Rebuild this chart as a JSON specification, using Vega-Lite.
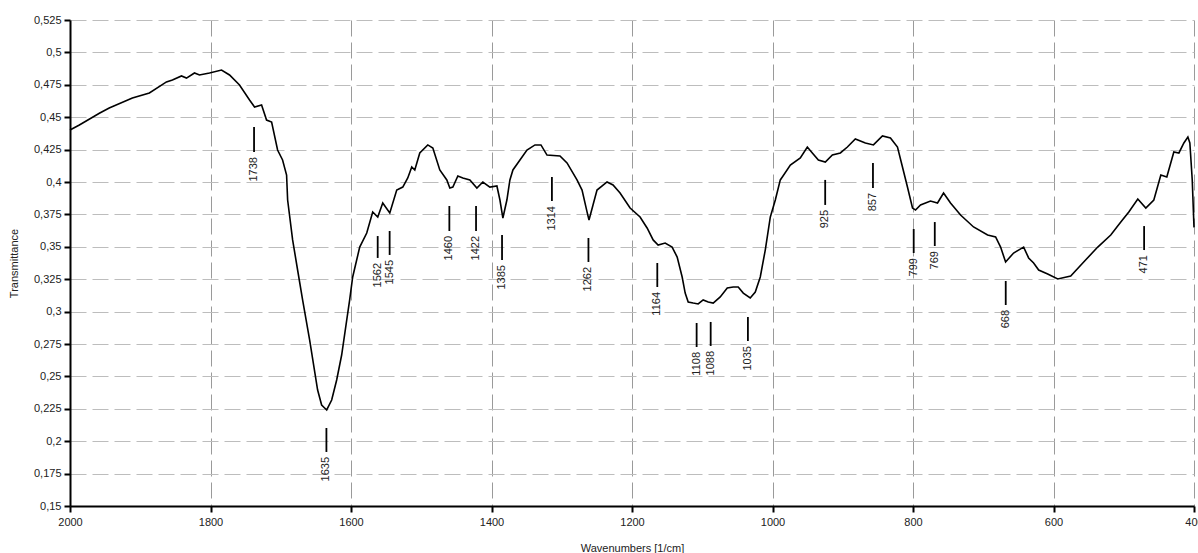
{
  "$schema": "https://vega.github.io/schema/vega-lite/v6.json",
  "width": 1124,
  "height": 486,
  "autosize": {"type": "none"},
  "padding": {"left": 70, "top": 20, "right": 4, "bottom": 47},
  "background": "white",
  "config": {
    "locale": {"number": {"decimal": ",", "thousands": ".", "grouping": [3], "currency": ["", ""]}},
    "view": {"stroke": null},
    "font": "Liberation Sans",
    "axis": {
      "labelFont": "Liberation Sans",
      "labelFontSize": 11,
      "labelColor": "#222222",
      "labelOverlap": false,
      "titleFont": "Liberation Sans",
      "titleFontSize": 11,
      "titleFontWeight": "normal",
      "titleColor": "#222222",
      "domainColor": "black",
      "domainWidth": 2,
      "tickColor": "black",
      "tickWidth": 2,
      "tickSize": 6,
      "gridDash": [16, 6],
      "gridWidth": 1
    }
  },
  "datasets": {
    "spectrum": [
      {"wn": 2000, "t": 0.4401},
      {"wn": 1986.7, "t": 0.444},
      {"wn": 1958.2, "t": 0.453},
      {"wn": 1944.2, "t": 0.4571},
      {"wn": 1911.2, "t": 0.4648},
      {"wn": 1887, "t": 0.4687},
      {"wn": 1862.7, "t": 0.4772},
      {"wn": 1854.2, "t": 0.4787},
      {"wn": 1841.3, "t": 0.4818},
      {"wn": 1834.2, "t": 0.4802},
      {"wn": 1822.8, "t": 0.4841},
      {"wn": 1815.7, "t": 0.4826},
      {"wn": 1801.4, "t": 0.4841},
      {"wn": 1784.3, "t": 0.4864},
      {"wn": 1772.9, "t": 0.4826},
      {"wn": 1758.7, "t": 0.4748},
      {"wn": 1744.4, "t": 0.4633},
      {"wn": 1737.3, "t": 0.4579},
      {"wn": 1727.3, "t": 0.4594},
      {"wn": 1720.2, "t": 0.4478},
      {"wn": 1713, "t": 0.4463},
      {"wn": 1704.5, "t": 0.4247},
      {"wn": 1697.4, "t": 0.417},
      {"wn": 1691.7, "t": 0.4054},
      {"wn": 1690.2, "t": 0.3861},
      {"wn": 1683.1, "t": 0.3553},
      {"wn": 1676, "t": 0.3321},
      {"wn": 1668.9, "t": 0.309},
      {"wn": 1658.9, "t": 0.2781},
      {"wn": 1647.5, "t": 0.2395},
      {"wn": 1641.8, "t": 0.2279},
      {"wn": 1634.6, "t": 0.2241},
      {"wn": 1627.5, "t": 0.2318},
      {"wn": 1620.4, "t": 0.2472},
      {"wn": 1613.3, "t": 0.2665},
      {"wn": 1606.1, "t": 0.2935},
      {"wn": 1601.9, "t": 0.309},
      {"wn": 1597.6, "t": 0.3267},
      {"wn": 1587.6, "t": 0.3498},
      {"wn": 1577.6, "t": 0.3606},
      {"wn": 1569.1, "t": 0.3769},
      {"wn": 1561.9, "t": 0.373},
      {"wn": 1554.8, "t": 0.3838},
      {"wn": 1544.8, "t": 0.3761},
      {"wn": 1534.9, "t": 0.3938},
      {"wn": 1526.3, "t": 0.3961},
      {"wn": 1519.2, "t": 0.4031},
      {"wn": 1513.5, "t": 0.4116},
      {"wn": 1509.2, "t": 0.4093},
      {"wn": 1502.1, "t": 0.4224},
      {"wn": 1490.7, "t": 0.4286},
      {"wn": 1483.5, "t": 0.4262},
      {"wn": 1473.6, "t": 0.4093},
      {"wn": 1463.6, "t": 0.4016},
      {"wn": 1459.3, "t": 0.3954},
      {"wn": 1455, "t": 0.3961},
      {"wn": 1447.9, "t": 0.4046},
      {"wn": 1440.8, "t": 0.4031},
      {"wn": 1430.8, "t": 0.4016},
      {"wn": 1420.8, "t": 0.3954},
      {"wn": 1412.3, "t": 0.4},
      {"wn": 1402.3, "t": 0.3961},
      {"wn": 1392.3, "t": 0.3969},
      {"wn": 1388, "t": 0.3861},
      {"wn": 1383.8, "t": 0.3722},
      {"wn": 1378.1, "t": 0.3861},
      {"wn": 1373.8, "t": 0.4016},
      {"wn": 1369.5, "t": 0.4093},
      {"wn": 1359.5, "t": 0.417},
      {"wn": 1349.5, "t": 0.4247},
      {"wn": 1338.1, "t": 0.4286},
      {"wn": 1329.6, "t": 0.4286},
      {"wn": 1321, "t": 0.4208},
      {"wn": 1302.5, "t": 0.4201},
      {"wn": 1292.5, "t": 0.4147},
      {"wn": 1278.3, "t": 0.4016},
      {"wn": 1271.1, "t": 0.3938},
      {"wn": 1264, "t": 0.3769},
      {"wn": 1261.2, "t": 0.3707},
      {"wn": 1255.5, "t": 0.3823},
      {"wn": 1249.8, "t": 0.3938},
      {"wn": 1235.5, "t": 0.4},
      {"wn": 1227, "t": 0.3977},
      {"wn": 1217, "t": 0.3915},
      {"wn": 1202.7, "t": 0.3799},
      {"wn": 1188.5, "t": 0.373},
      {"wn": 1178.5, "t": 0.3645},
      {"wn": 1169.9, "t": 0.3553},
      {"wn": 1162.8, "t": 0.3514},
      {"wn": 1152.8, "t": 0.3529},
      {"wn": 1142.9, "t": 0.3498},
      {"wn": 1135.7, "t": 0.3421},
      {"wn": 1128.6, "t": 0.3267},
      {"wn": 1124.3, "t": 0.3143},
      {"wn": 1120, "t": 0.3074},
      {"wn": 1112.9, "t": 0.3066},
      {"wn": 1105.8, "t": 0.3059},
      {"wn": 1098.7, "t": 0.309},
      {"wn": 1091.5, "t": 0.3074},
      {"wn": 1084.4, "t": 0.3066},
      {"wn": 1074.4, "t": 0.3113},
      {"wn": 1064.4, "t": 0.3182},
      {"wn": 1055.9, "t": 0.319},
      {"wn": 1048.8, "t": 0.319},
      {"wn": 1041.6, "t": 0.3143},
      {"wn": 1031.7, "t": 0.3105},
      {"wn": 1024.5, "t": 0.3151},
      {"wn": 1017.4, "t": 0.3267},
      {"wn": 1010.3, "t": 0.3475},
      {"wn": 1003.1, "t": 0.373},
      {"wn": 996, "t": 0.3861},
      {"wn": 988.9, "t": 0.4016},
      {"wn": 986, "t": 0.4039},
      {"wn": 974.6, "t": 0.4131},
      {"wn": 960.4, "t": 0.4185},
      {"wn": 950.4, "t": 0.427},
      {"wn": 943.3, "t": 0.4224},
      {"wn": 934.7, "t": 0.417},
      {"wn": 924.8, "t": 0.4154},
      {"wn": 914.8, "t": 0.4208},
      {"wn": 903.4, "t": 0.4224},
      {"wn": 893.4, "t": 0.427},
      {"wn": 882.1, "t": 0.4332},
      {"wn": 867.8, "t": 0.4301},
      {"wn": 856.3, "t": 0.4286},
      {"wn": 843.5, "t": 0.4355},
      {"wn": 832.1, "t": 0.434},
      {"wn": 822.1, "t": 0.427},
      {"wn": 815, "t": 0.4116},
      {"wn": 807.9, "t": 0.3961},
      {"wn": 800.7, "t": 0.3799},
      {"wn": 796.4, "t": 0.3784},
      {"wn": 789.3, "t": 0.3823},
      {"wn": 775.1, "t": 0.3853},
      {"wn": 765.1, "t": 0.3838},
      {"wn": 756.5, "t": 0.3915},
      {"wn": 746.6, "t": 0.3838},
      {"wn": 732.3, "t": 0.3745},
      {"wn": 713.8, "t": 0.3653},
      {"wn": 693.8, "t": 0.3591},
      {"wn": 682.4, "t": 0.3576},
      {"wn": 675.3, "t": 0.3498},
      {"wn": 668.2, "t": 0.3383},
      {"wn": 656.8, "t": 0.3452},
      {"wn": 642.5, "t": 0.3498},
      {"wn": 635.4, "t": 0.3414},
      {"wn": 628.3, "t": 0.3375},
      {"wn": 621.1, "t": 0.3321},
      {"wn": 608.3, "t": 0.329},
      {"wn": 594, "t": 0.3252},
      {"wn": 575.5, "t": 0.3275},
      {"wn": 557, "t": 0.3383},
      {"wn": 537, "t": 0.3498},
      {"wn": 518.5, "t": 0.3591},
      {"wn": 504.2, "t": 0.3691},
      {"wn": 492.8, "t": 0.3769},
      {"wn": 480, "t": 0.3869},
      {"wn": 468.6, "t": 0.3799},
      {"wn": 457.2, "t": 0.3861},
      {"wn": 447.2, "t": 0.4054},
      {"wn": 438.7, "t": 0.4039},
      {"wn": 428.7, "t": 0.4232},
      {"wn": 421.5, "t": 0.4224},
      {"wn": 414.4, "t": 0.4301},
      {"wn": 408.7, "t": 0.4347},
      {"wn": 405.9, "t": 0.4301},
      {"wn": 402.5, "t": 0.4016},
      {"wn": 400, "t": 0.365}
    ],
    "peaks": [
      {"wn": 1738, "top": 0.4424, "bottom": 0.4231, "label": "1738"},
      {"wn": 1635, "top": 0.2102, "bottom": 0.1917, "label": "1635"},
      {"wn": 1562, "top": 0.3583, "bottom": 0.3414, "label": "1562"},
      {"wn": 1545, "top": 0.3622, "bottom": 0.3437, "label": "1545"},
      {"wn": 1460, "top": 0.3815, "bottom": 0.3622, "label": "1460"},
      {"wn": 1422, "top": 0.3815, "bottom": 0.3622, "label": "1422"},
      {"wn": 1385, "top": 0.3591, "bottom": 0.3398, "label": "1385"},
      {"wn": 1314, "top": 0.4039, "bottom": 0.3853, "label": "1314"},
      {"wn": 1262, "top": 0.3568, "bottom": 0.3383, "label": "1262"},
      {"wn": 1164, "top": 0.3375, "bottom": 0.319, "label": "1164"},
      {"wn": 1108, "top": 0.2912, "bottom": 0.2727, "label": "1108"},
      {"wn": 1088, "top": 0.292, "bottom": 0.2735, "label": "1088"},
      {"wn": 1035, "top": 0.2958, "bottom": 0.2773, "label": "1035"},
      {"wn": 925, "top": 0.4016, "bottom": 0.3823, "label": "925"},
      {"wn": 857, "top": 0.4147, "bottom": 0.3954, "label": "857"},
      {"wn": 799, "top": 0.3637, "bottom": 0.3452, "label": "799"},
      {"wn": 769, "top": 0.3691, "bottom": 0.3506, "label": "769"},
      {"wn": 668, "top": 0.3236, "bottom": 0.3051, "label": "668"},
      {"wn": 471, "top": 0.366, "bottom": 0.3475, "label": "471"}
    ]
  },
  "layer": [
    {
      "data": {"name": "spectrum"},
      "mark": {"type": "line", "color": "black", "strokeWidth": 1.6, "interpolate": "linear"},
      "encoding": {
        "x": {
          "field": "wn",
          "type": "quantitative",
          "scale": {"domain": [2000, 400], "nice": false, "zero": false},
          "axis": {
            "title": "Wavenumbers [1/cm]",
            "values": [2000, 1800, 1600, 1400, 1200, 1000, 800, 600, 400],
            "tickCount": 40,
            "format": "d",
            "labelPadding": 4,
            "labelFlush": false,
            "labelOverlap": false,
            "gridColor": "#9a9a9a",
            "titleX": 562,
            "titleY": 45,
            "titleBaseline": "alphabetic",
            "titleAnchor": "middle"
          }
        },
        "y": {
          "field": "t",
          "type": "quantitative",
          "scale": {"domain": [0.15, 0.525], "nice": false, "zero": false},
          "axis": {
            "title": "Transmittance",
            "values": [0.15, 0.175, 0.2, 0.225, 0.25, 0.275, 0.3, 0.325, 0.35, 0.375, 0.4, 0.425, 0.45, 0.475, 0.5, 0.525],
            "tickCount": 40,
            "format": ".3~f",
            "labelPadding": 3,
            "labelFlush": false,
            "labelOverlap": false,
            "labelSeparation": 0,
            "gridColor": "#bdbdbd",
            "titleX": -53,
            "titleY": 243,
            "titleBaseline": "alphabetic",
            "titleAngle": 270,
            "titleAnchor": "middle"
          }
        }
      }
    },
    {
      "data": {"name": "peaks"},
      "mark": {"type": "rule", "color": "black", "strokeWidth": 1.8},
      "encoding": {
        "x": {"field": "wn", "type": "quantitative"},
        "y": {"field": "top", "type": "quantitative"},
        "y2": {"field": "bottom"}
      }
    },
    {
      "data": {"name": "peaks"},
      "mark": {"type": "text", "angle": 270, "align": "right", "baseline": "middle", "dx": -5, "fontSize": 11, "font": "Liberation Sans", "color": "#222222"},
      "encoding": {
        "x": {"field": "wn", "type": "quantitative"},
        "y": {"field": "bottom", "type": "quantitative"},
        "text": {"field": "label"}
      }
    }
  ]
}
